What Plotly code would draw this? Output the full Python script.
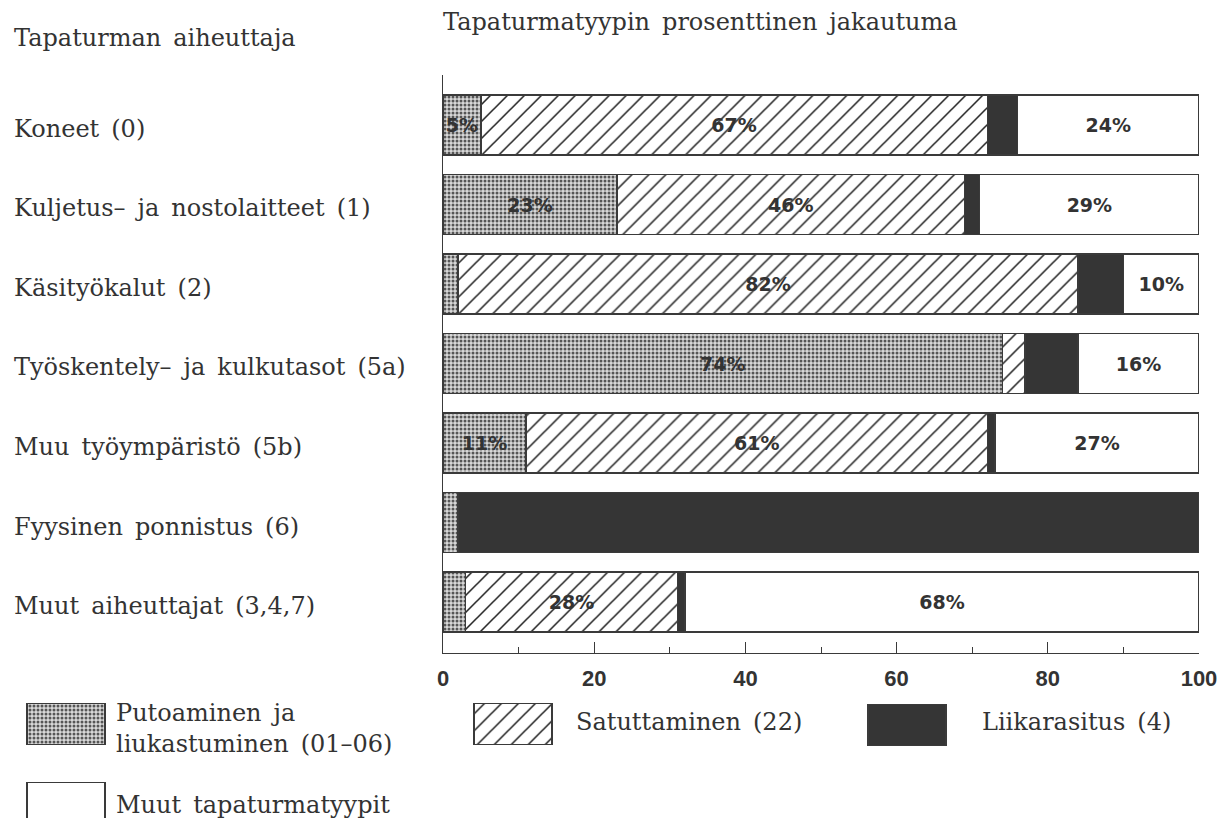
import plotly.graph_objects as go

W, H = 1224, 818

# --- data -------------------------------------------------------------
categories = [
    "Koneet (0)",
    "Kuljetus– ja nostolaitteet (1)",
    "Käsityökalut (2)",
    "Työskentely– ja kulkutasot (5a)",
    "Muu työympäristö (5b)",
    "Fyysinen ponnistus (6)",
    "Muut aiheuttajat (3,4,7)",
]
putoaminen = [5, 23, 2, 74, 11, 2, 3]
satuttaminen = [67, 46, 82, 3, 61, 0, 28]
liikarasitus = [4, 2, 6, 7, 1, 98, 1]
muut = [24, 29, 10, 16, 27, 0, 68]
x_ticks = [0, 20, 40, 60, 80, 100]

series_names = [
    "Putoaminen ja<br>liukastuminen (01–06)",
    "Satuttaminen (22)",
    "Liikarasitus (4)",
    "Muut tapaturmatyypit",
]
left_title = "Tapaturman aiheuttaja"
top_title = "Tapaturmatyypin prosenttinen jakautuma"

# --- layout geometry (pixels) ----------------------------------------
plot_left, plot_right = 443, 1199
plot_top, plot_bottom = 75, 653
row0_center, row_pitch = 125, 79.5
bar_height = 60

ink = "#333333"
serif = "DejaVu Serif"
sans = "Liberation Sans"
bold_sans = "DejaVu Sans"
serif_size = 24


def px_x(p):
    return p / W


def px_y(p):
    return 1 - p / H


def spaced(s):
    # wider word gaps, as in the typeset original
    return s.replace(" ", "\u2002")


outline = dict(color="#3a3a3a", width=1.4)

styles = [
    dict(color="#d2d2d2", line=outline,
         pattern=dict(shape=".", size=4, solidity=0.45, fgcolor="#555555",
                      bgcolor="#d8d8d8", fillmode="replace")),
    dict(color="white", line=outline,
         pattern=dict(shape="/", size=12, solidity=0.13, fgcolor="#222222",
                      bgcolor="white", fillmode="replace")),
    dict(color="#353535", line=outline),
    dict(color="white", line=outline),
]

labelled = [True, True, False, True]
values = [putoaminen, satuttaminen, liikarasitus, muut]

fig = go.Figure()

for name, vals, style, lab in zip(series_names, values, styles, labelled):
    text = [f"{v}%" if (lab and v >= 5) else "" for v in vals]
    fig.add_trace(go.Bar(
        y=categories, x=vals, orientation="h", name=name,
        marker=style, text=text, textposition="inside", textangle=0,
        insidetextanchor="middle", constraintext="none",
        textfont=dict(family=bold_sans, size=19, color=ink, weight="bold"),
        showlegend=False, xaxis="x", yaxis="y",
    ))

# legend keys drawn on a pixel-scaled helper axis
key_left = [27, 474, 868, 27]
key_center = [724, 724, 725, 803]
key_width = 78
key_height = 41
for i, style in enumerate(styles):
    fig.add_trace(go.Bar(
        y=[key_center[i]], x=[key_width], base=[key_left[i]],
        orientation="h", width=[key_height], marker=style,
        showlegend=False, hoverinfo="skip", xaxis="x2", yaxis="y2",
    ))

serif_font = dict(family=serif, size=serif_size, color=ink)
annotations = []
# category labels, left aligned at the page edge
for c in categories:
    annotations.append(dict(
        x=px_x(12), xref="paper", xanchor="left",
        y=c, yref="y", yanchor="middle", yshift=-4,
        text=spaced(c), showarrow=False, font=serif_font,
    ))

annotations.append(dict(
    x=px_x(12), xref="paper", xanchor="left",
    y=px_y(38), yref="paper", yanchor="middle",
    text=spaced(left_title), showarrow=False, font=serif_font,
))
annotations.append(dict(
    x=px_x(441), xref="paper", xanchor="left",
    y=px_y(22), yref="paper", yanchor="middle",
    text=spaced(top_title), showarrow=False, font=serif_font,
))

legend_text_pos = [(114, 728), (574, 722), (980, 722), (114, 805)]
for name, (lx, ly) in zip(series_names, legend_text_pos):
    annotations.append(dict(
        x=px_x(lx), xref="paper", xanchor="left",
        y=px_y(ly), yref="paper", yanchor="middle", align="left",
        text=spaced(name), showarrow=False, font=serif_font,
    ))

y_range = [(plot_bottom - row0_center) / row_pitch,
           (plot_top - row0_center) / row_pitch]

fig.update_layout(
    width=W, height=H,
    margin=dict(l=0, r=0, t=0, b=0, autoexpand=False),
    paper_bgcolor="white", plot_bgcolor="rgba(0,0,0,0)",
    barmode="stack",
    bargap=1 - bar_height / row_pitch,
    annotations=annotations,
    xaxis=dict(
        domain=[px_x(plot_left), px_x(plot_right)],
        range=[0, 100], tickvals=x_ticks,
        showgrid=False, zeroline=False, automargin=False,
        showline=True, linecolor="#3a3a3a", linewidth=1.4,
        ticks="inside", ticklen=11, tickwidth=1.2, tickcolor="#3a3a3a",
        minor=dict(ticks="inside", ticklen=6, dtick=10, tickwidth=1.2,
                   tickcolor="#3a3a3a", showgrid=False),
        tickfont=dict(family=sans, size=22, color=ink, weight="bold"),
        ticklabelstandoff=5,
        anchor="y", fixedrange=True,
    ),
    yaxis=dict(
        domain=[px_y(plot_bottom), px_y(plot_top)],
        type="category", categoryorder="array", categoryarray=categories,
        range=y_range, showticklabels=False, ticks="", automargin=False,
        showgrid=False, zeroline=False,
        showline=True, linecolor="#3a3a3a", linewidth=1.4,
        anchor="x", fixedrange=True,
    ),
    xaxis2=dict(domain=[0, 1], range=[0, W], visible=False, anchor="y2",
                fixedrange=True, automargin=False),
    yaxis2=dict(domain=[0, 1], range=[H, 0], visible=False, anchor="x2",
                fixedrange=True, automargin=False),
)

fig.write_html("out.html")
